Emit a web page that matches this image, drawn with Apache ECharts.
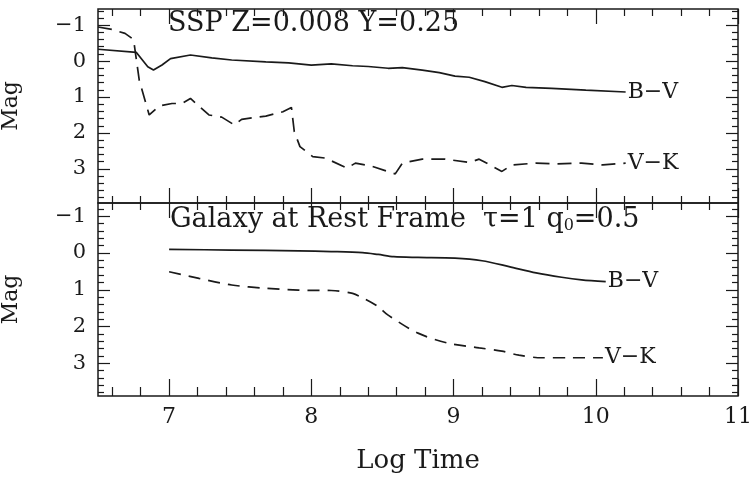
<!DOCTYPE html>
<html>
<head>
<meta charset="utf-8">
<script src="https://cdn.jsdelivr.net/npm/echarts@6/dist/echarts.min.js"></script>
<style>
  html, body { margin: 0; padding: 0; background: #fff; }
  #chart { width: 753px; height: 477px; }
</style>
</head>
<body>
<div id="chart"></div>
<script>
// ---- data ----
// top panel: SSP Z=0.008 Y=0.25
var sspBV = [
  [6.50, -0.33], [6.77, -0.24], [6.85, 0.16], [6.89, 0.25], [6.95, 0.11],
  [7.01, -0.07], [7.15, -0.17], [7.30, -0.09], [7.44, -0.03], [7.68, 0.02],
  [7.84, 0.05], [8.00, 0.11], [8.14, 0.08], [8.29, 0.13], [8.40, 0.15],
  [8.54, 0.20], [8.64, 0.18], [8.78, 0.25], [8.90, 0.32], [9.01, 0.42],
  [9.11, 0.45], [9.22, 0.57], [9.34, 0.73], [9.41, 0.68], [9.51, 0.73],
  [9.69, 0.76], [9.93, 0.81], [10.21, 0.86]
];
var sspVK = [
  [6.50, -0.95], [6.60, -0.88], [6.69, -0.77], [6.75, -0.60], [6.79, 0.53],
  [6.86, 1.50], [6.93, 1.25], [7.02, 1.18], [7.09, 1.18], [7.15, 1.04],
  [7.28, 1.50], [7.37, 1.56], [7.46, 1.78], [7.51, 1.62], [7.68, 1.53],
  [7.80, 1.41], [7.86, 1.29], [7.88, 1.96], [7.92, 2.38], [8.01, 2.66],
  [8.10, 2.70], [8.25, 2.98], [8.31, 2.84], [8.42, 2.92], [8.59, 3.14],
  [8.64, 2.84], [8.78, 2.73], [8.94, 2.73], [9.11, 2.82], [9.18, 2.73],
  [9.34, 3.07], [9.41, 2.89], [9.58, 2.84], [9.72, 2.86], [9.90, 2.84],
  [10.05, 2.89], [10.21, 2.84]
];
// bottom panel: galaxy at rest frame
var galBV = [
  [7.00, -0.10], [7.44, -0.08], [7.91, -0.06], [8.14, -0.04], [8.36, -0.01],
  [8.47, 0.04], [8.58, 0.10], [8.75, 0.12], [9.01, 0.14], [9.20, 0.21],
  [9.39, 0.37], [9.58, 0.54], [9.76, 0.66], [9.90, 0.73], [10.07, 0.78]
];
var galVK = [
  [7.00, 0.51], [7.21, 0.69], [7.44, 0.87], [7.68, 0.96], [7.91, 1.01],
  [8.14, 1.02], [8.29, 1.10], [8.38, 1.26], [8.47, 1.46], [8.54, 1.69],
  [8.75, 2.18], [8.96, 2.45], [9.18, 2.58], [9.34, 2.67], [9.46, 2.78],
  [9.62, 2.85], [9.81, 2.85], [10.05, 2.85]
];

var xMajor = [7, 8, 9, 10, 11];
var yMajor = [-1, 0, 1, 2, 3];
var xMinor = [];
for (var i = 33; i <= 54; i++) { if (i % 5 !== 0) xMinor.push(i / 5); }
var yMinor = [];
for (var j = -7; j <= 19; j++) { if (j % 5 !== 0) yMinor.push(j / 5); }

var FONT = 'DejaVu Serif';
var INK = '#1a1a1a';

var grids = [
  { left: 98, right: 15, top: 9, height: 194, show: true, borderColor: INK, borderWidth: 1.5,
    outerBoundsMode: 'none', containLabel: false },
  { left: 98, right: 15, top: 203, height: 193, show: true, borderColor: INK, borderWidth: 1.5,
    outerBoundsMode: 'none', containLabel: false }
];
var yRange = [[-1.45, 3.95], [-1.36, 3.89]];

function xAx(g, pos, vals, len, withLabel) {
  return {
    type: 'value', gridIndex: g, position: pos, min: 6.5, max: 11,
    axisLine: { show: false, onZero: false }, splitLine: { show: false },
    axisTick: { show: true, inside: true, length: len, customValues: vals,
      lineStyle: { color: INK, width: 1.2 } },
    axisLabel: withLabel ? { show: true, customValues: xMajor, margin: 10,
      fontSize: 22, fontFamily: FONT, color: INK } : { show: false },
    name: withLabel ? 'Log Time' : '',
    nameLocation: 'middle', nameGap: 52, nameMoveOverlap: false,
    nameTextStyle: { fontSize: 26, fontFamily: FONT, color: INK }
  };
}
function yAx(g, pos, vals, len, withLabel) {
  return {
    type: 'value', gridIndex: g, position: pos, inverse: true,
    min: yRange[g][0], max: yRange[g][1],
    axisLine: { show: false, onZero: false }, splitLine: { show: false },
    axisTick: { show: true, inside: true, length: len, customValues: vals,
      lineStyle: { color: INK, width: 1.2 } },
    axisLabel: withLabel ? { show: true, customValues: yMajor, margin: 12,
      fontSize: 21, fontFamily: FONT, color: INK,
      formatter: function (v) { return v < 0 ? '\u2212' + Math.abs(v) : String(v); } } : { show: false },
    name: withLabel ? 'Mag' : '',
    nameLocation: 'middle', nameGap: 76, nameRotate: 90, nameMoveOverlap: false,
    nameTextStyle: { fontSize: 22, fontFamily: FONT, color: INK }
  };
}

var xAxes = [], yAxes = [];
[0, 1].forEach(function (g) {
  xAxes.push(xAx(g, 'bottom', xMajor, g === 1 ? 17 : 15, g === 1));
  xAxes.push(xAx(g, 'bottom', xMinor, g === 1 ? 9 : 7, false));
  xAxes.push(xAx(g, 'top', xMajor, 15, false));
  xAxes.push(xAx(g, 'top', xMinor, 7, false));
  yAxes.push(yAx(g, 'left', yMajor, 12, true));
  yAxes.push(yAx(g, 'left', yMinor, 6, false));
  yAxes.push(yAx(g, 'right', yMajor, 12, false));
  yAxes.push(yAx(g, 'right', yMinor, 6, false));
});

function line(data, g, dash, label, smooth) {
  return {
    type: 'line', data: data, xAxisIndex: g * 4, yAxisIndex: g * 4,
    symbol: 'none', smooth: smooth,
    lineStyle: { color: INK, width: 1.7, type: dash },
    endLabel: { show: true, formatter: label, distance: 2,
      fontSize: 22, fontFamily: FONT, color: INK }
  };
}

var chart = echarts.init(document.getElementById('chart'));
chart.setOption({
  animation: false,
  backgroundColor: '#fff',
  grid: grids,
  xAxis: xAxes,
  yAxis: yAxes,
  series: [
    line(sspBV, 0, 'solid', 'B\u2212V', false),
    line(sspVK, 0, [14, 8], 'V\u2212K', false),
    line(galBV, 1, 'solid', 'B\u2212V', 0.3),
    line(galVK, 1, [12, 8], 'V\u2212K', 0.3)
  ],
  graphic: [
    { type: 'text', left: 168, top: 10,
      style: { text: 'SSP Z=0.008 Y=0.25', font: '27px "DejaVu Serif"', fill: INK } },
    { type: 'text', left: 170, top: 206,
      style: { text: 'Galaxy at Rest Frame  \u03c4=1 q{s|0}=0.5', font: '27px "DejaVu Serif"', fill: INK,
        rich: { s: { fontSize: 16, fontFamily: FONT, verticalAlign: 'bottom', padding: [12, 0, 0, 0] } } } }
  ]
});
</script>
</body>
</html>
